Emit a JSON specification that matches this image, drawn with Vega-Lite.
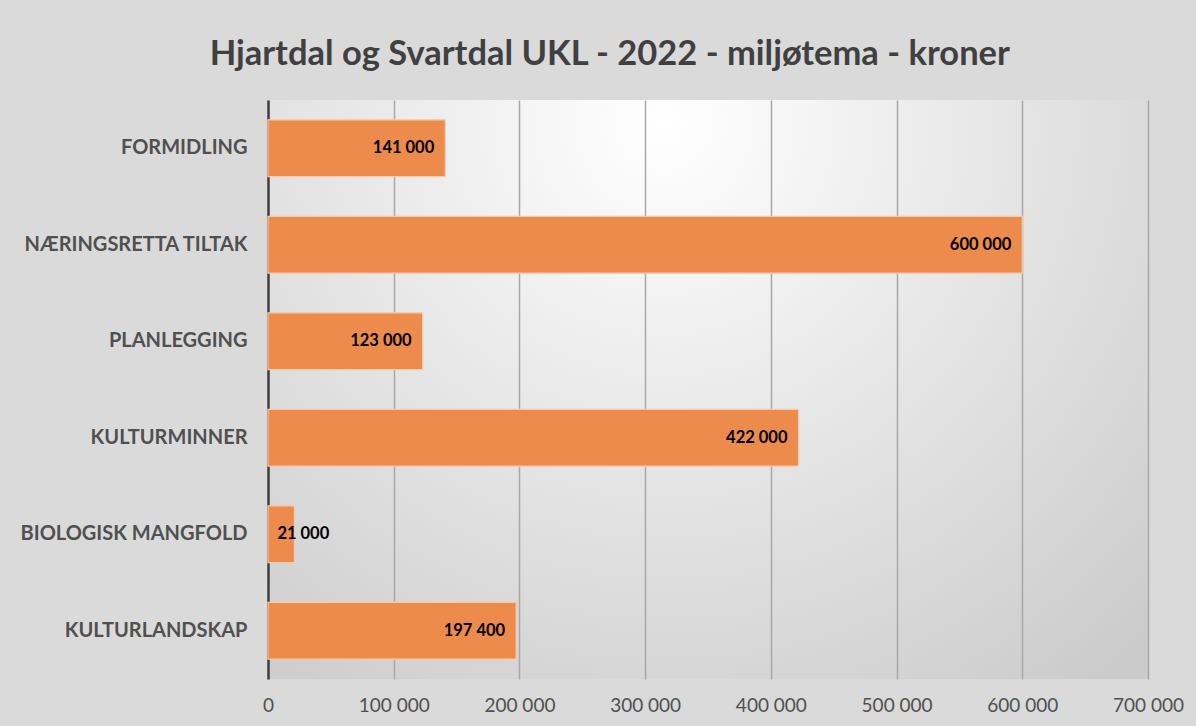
{
  "$schema": "https://vega.github.io/schema/vega-lite/v6.json",
  "width": 880,
  "height": 579,
  "autosize": {"type": "none"},
  "padding": {"left": 268, "top": 100, "right": 48, "bottom": 47},
  "background": "#dadada",
  "title": {
    "text": "Hjartdal og Svartdal UKL - 2022 - miljøtema - kroner",
    "frame": "bounds",
    "anchor": "middle",
    "dx": 8,
    "font": "Lato",
    "fontSize": 34.5,
    "fontWeight": "bold",
    "color": "#404040",
    "offset": 28
  },
  "config": {
    "locale": {"number": {"decimal": ",", "thousands": " ", "grouping": [3], "currency": ["", ""]}},
    "view": {
      "stroke": null,
      "fill": {
        "gradient": "radial",
        "x1": 0.45, "y1": 0.2, "r1": 0,
        "x2": 0.45, "y2": 0.2, "r2": 0.8,
        "stops": [
          {"offset": 0, "color": "#ffffff"},
          {"offset": 1, "color": "#cbcbcb"}
        ]
      }
    }
  },
  "data": {
    "values": [
      {"tema": "FORMIDLING", "kroner": 141000},
      {"tema": "NÆRINGSRETTA TILTAK", "kroner": 600000},
      {"tema": "PLANLEGGING", "kroner": 123000},
      {"tema": "KULTURMINNER", "kroner": 422000},
      {"tema": "BIOLOGISK MANGFOLD", "kroner": 21000},
      {"tema": "KULTURLANDSKAP", "kroner": 197400}
    ]
  },
  "encoding": {
    "y": {
      "field": "tema",
      "type": "nominal",
      "sort": null,
      "title": null,
      "scale": {"paddingInner": 0.41, "paddingOuter": 0.205},
      "axis": {
        "ticks": false,
        "domainColor": "#404040",
        "domainWidth": 2.5,
        "labelFont": "Lato",
        "labelFontSize": 20,
        "labelFontWeight": "bold",
        "labelColor": "#505050",
        "labelPadding": 21,
        "labelLimit": 300
      }
    },
    "x": {
      "field": "kroner",
      "type": "quantitative",
      "title": null,
      "scale": {"domain": [0, 700000], "nice": false},
      "axis": {
        "values": [0, 100000, 200000, 300000, 400000, 500000, 600000, 700000],
        "format": ",.0f",
        "domain": false,
        "ticks": false,
        "grid": true,
        "gridColor": "#a8a8a8",
        "gridWidth": 1.5,
        "labelFlush": false,
        "labelOverlap": false,
        "labelBound": false,
        "labelFont": "Lato",
        "labelFontSize": 19,
        "labelColor": "#505050",
        "labelPadding": 17
      }
    }
  },
  "layer": [
    {
      "mark": {"type": "bar", "fill": "#ec8b4c", "stroke": "#f7caa8", "strokeWidth": 1.2}
    },
    {
      "transform": [{"filter": "datum.kroner >= 50000"}],
      "mark": {"type": "text", "align": "right", "baseline": "middle", "dx": -11, "font": "Lato", "fontSize": 16.5, "fontWeight": "bold", "color": "#000000"},
      "encoding": {"text": {"field": "kroner", "type": "quantitative", "format": ",.0f"}}
    },
    {
      "transform": [{"filter": "datum.kroner < 50000"}],
      "mark": {"type": "text", "align": "left", "baseline": "middle", "dx": -17, "font": "Lato", "fontSize": 16.5, "fontWeight": "bold", "color": "#000000"},
      "encoding": {"text": {"field": "kroner", "type": "quantitative", "format": ",.0f"}}
    }
  ]
}
